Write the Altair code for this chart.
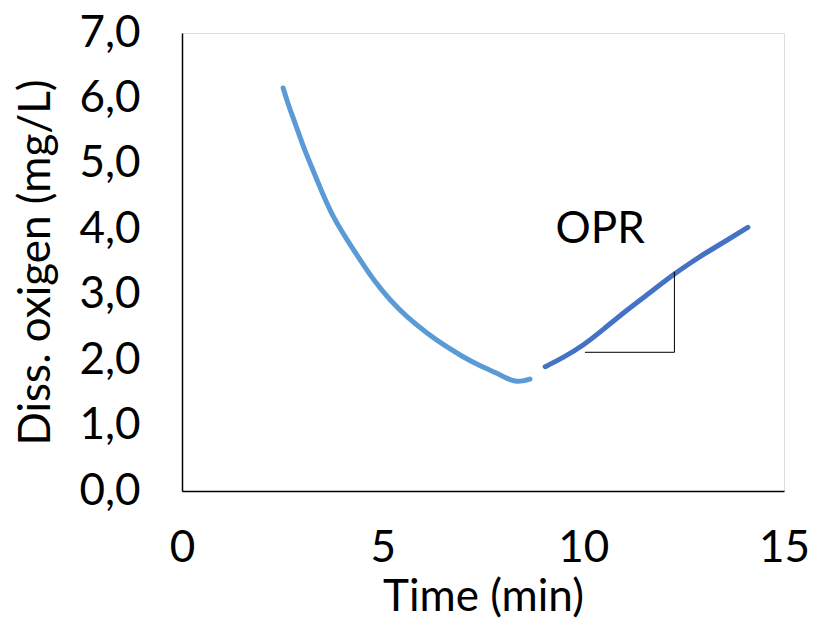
import altair as alt
import pandas as pd

# Data
decline_t = [2.52, 2.65, 2.82, 3.0, 3.19, 3.5, 3.76, 4.1, 4.44, 4.8, 5.18, 5.6, 6.11, 6.5, 7.0, 7.4, 7.85, 8.1, 8.3, 8.5, 8.67]
decline_do = [6.16, 5.90, 5.62, 5.30, 5.01, 4.55, 4.19, 3.85, 3.53, 3.20, 2.92, 2.66, 2.41, 2.24, 2.05, 1.92, 1.80, 1.72, 1.67, 1.68, 1.71]
rise_t = [9.05, 9.5, 9.99, 10.5, 11.09, 11.7, 12.29, 12.7, 13.08, 13.6, 14.10]
rise_do = [1.90, 2.04, 2.22, 2.47, 2.77, 3.05, 3.33, 3.50, 3.65, 3.84, 4.03]

slope_x = [10.04, 12.27]
slope_y = [2.12, 3.35]
label_text = ["OPR"]
label_x = [10.42]
label_y = [3.99]

FONT = "Lato"
FS = 44

df = pd.concat([
    pd.DataFrame({"t": decline_t, "do": decline_do, "series": "decline"}),
    pd.DataFrame({"t": rise_t, "do": rise_do, "series": "rise"}),
])

xs = alt.Scale(domain=[0, 15], nice=False, zero=False)
ys = alt.Scale(domain=[0, 7], nice=False, zero=False)

lines = alt.Chart(df).mark_line(strokeWidth=5, interpolate="basis", strokeCap="round").encode(
    x=alt.X("t:Q", scale=xs, title="Time (min)",
            axis=alt.Axis(values=[0, 5, 10, 15], labelFontSize=FS, titleFontSize=FS,
                          labelPadding=35, titlePadding=5, tickSize=0, grid=False,
                          domainColor="black", domainWidth=1.5, labelColor="black",
                          titleColor="black", labelFont=FONT, titleFont=FONT,
                          titleFontWeight="normal", labelFlush=False)),
    y=alt.Y("do:Q", scale=ys, title="Diss. oxigen (mg/L)",
            axis=alt.Axis(values=[0, 1, 2, 3, 4, 5, 6, 7], labelFontSize=FS, titleFontSize=FS,
                          labelPadding=42, titlePadding=20, tickSize=0, grid=False,
                          domainColor="black", domainWidth=1.5, labelColor="black",
                          titleColor="black", labelFont=FONT, titleFont=FONT,
                          titleFontWeight="normal", labelFlush=False,
                          labelExpr="replace(format(datum.value, '.1f'), '.', ',')")),
    color=alt.Color("series:N", scale=alt.Scale(domain=["decline", "rise"], range=["#5B9BD5", "#4472C4"]), legend=None),
    detail="series:N",
)

hdf = pd.DataFrame({"x": [slope_x[0]], "x2": [slope_x[1]], "y": [slope_y[0]]})
vdf = pd.DataFrame({"x": [slope_x[1]], "y": [slope_y[0]], "y2": [slope_y[1]]})

hrule = alt.Chart(hdf).mark_rule(color="black", strokeWidth=1).encode(
    x=alt.X("x:Q", scale=xs), x2="x2:Q", y=alt.Y("y:Q", scale=ys))
vrule = alt.Chart(vdf).mark_rule(color="black", strokeWidth=1).encode(
    x=alt.X("x:Q", scale=xs), y=alt.Y("y:Q", scale=ys), y2="y2:Q")

tdf = pd.DataFrame({"x": label_x, "y": label_y, "text": label_text})
text = alt.Chart(tdf).mark_text(fontSize=FS, font=FONT, color="black", align="center", baseline="middle").encode(
    x=alt.X("x:Q", scale=xs), y=alt.Y("y:Q", scale=ys), text="text:N")

chart = alt.layer(lines, hrule, vrule, text).properties(
    width=602, height=458,
    autosize=alt.AutoSizeParams(type="none"),
    padding={"left": 182, "top": 33, "right": 31, "bottom": 134},
).configure_view(stroke=None).configure(background="white")

chart.save("out.html", embed_options={"renderer": "svg", "actions": False})
